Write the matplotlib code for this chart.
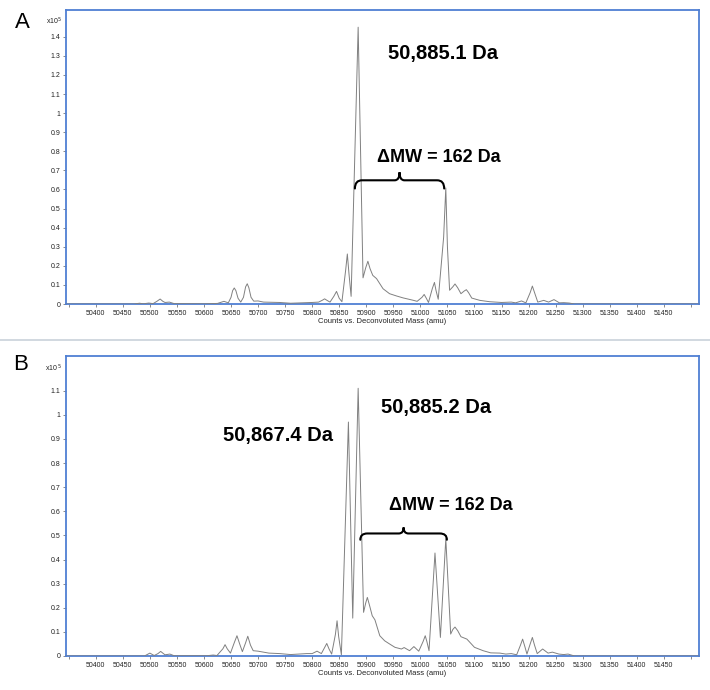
import matplotlib
matplotlib.use("Agg")
import matplotlib.pyplot as plt
from matplotlib.path import Path
from matplotlib.patches import PathPatch
from matplotlib.lines import Line2D

plt.rcParams['font.family'] = ['Liberation Sans', 'DejaVu Sans']

# ---- data (intensity in units of 1e5 counts) ----
mass_a = [50345, 50470, 50481, 50488, 50498, 50506, 50513, 50519, 50524, 50528, 50536,
          50545, 50600, 50625, 50637, 50645, 50650, 50653, 50656, 50659, 50663, 50668,
          50673, 50677, 50680, 50683, 50687, 50692, 50700, 50710, 50740, 50760, 50800,
          50812, 50819, 50823, 50828, 50833, 50840, 50845, 50850, 50855, 50862, 50865,
          50868, 50872, 50885, 50894, 50899, 50903, 50907, 50912, 50919, 50931, 50943,
          50956, 50968, 50980, 50986, 50994, 51003, 51007, 51011, 51015, 51022, 51026,
          51029, 51033, 51043, 51047, 51050, 51054, 51060, 51064, 51069, 51075, 51081,
          51085, 51089, 51095, 51110, 51128, 51150, 51168, 51176, 51187, 51195, 51203,
          51207, 51211, 51217, 51228, 51237, 51247, 51257, 51265, 51275, 51285, 51515]
int_a = [0, 0, 0.004, 0.001, 0.005, 0.002, 0.014, 0.026, 0.014, 0.008, 0.010,
         0.002, 0.001, 0.003, 0.014, 0.006, 0.035, 0.070, 0.084, 0.070, 0.030, 0.010,
         0.035, 0.090, 0.106, 0.085, 0.035, 0.015, 0.016, 0.010, 0.008, 0.004, 0.008,
         0.010, 0.020, 0.027, 0.018, 0.010, 0.040, 0.066, 0.030, 0.012, 0.180, 0.262,
         0.160, 0.040, 1.450, 0.137, 0.190, 0.224, 0.185, 0.150, 0.133, 0.080, 0.054,
         0.042, 0.032, 0.024, 0.020, 0.014, 0.035, 0.050, 0.030, 0.008, 0.080, 0.113,
         0.070, 0.025, 0.350, 0.608, 0.300, 0.072, 0.090, 0.105, 0.085, 0.054, 0.068,
         0.075, 0.060, 0.031, 0.019, 0.012, 0.008, 0.010, 0.006, 0.016, 0.006, 0.060,
         0.094, 0.060, 0.010, 0.019, 0.010, 0.023, 0.006, 0.007, 0.005, 0, 0]

mass_b = [50345, 50490, 50500, 50508, 50515, 50520, 50525, 50528, 50537, 50545, 50605,
          50617, 50624, 50635, 50639, 50643, 50649, 50656, 50661, 50666, 50671, 50677,
          50681, 50686, 50691, 50700, 50720, 50740, 50760, 50790, 50800, 50809, 50817,
          50823, 50827, 50831, 50836, 50843, 50846, 50849, 50854, 50867, 50875, 50885,
          50895, 50899, 50902, 50906, 50911, 50916, 50925, 50934, 50943, 50953, 50965,
          50970, 50980, 50988, 50997, 51005, 51009, 51012, 51016, 51027, 51037, 51047,
          51056, 51060, 51064, 51069, 51075, 51086, 51100, 51116, 51130, 51147, 51158,
          51168, 51178, 51185, 51189, 51193, 51197, 51203, 51207, 51211, 51216, 51226,
          51236, 51244, 51256, 51265, 51273, 51285, 51515]
int_b = [0, 0, 0.012, 0.002, 0.010, 0.019, 0.010, 0.005, 0.008, 0.001, 0.001,
         0.004, 0.002, 0.030, 0.047, 0.030, 0.012, 0.055, 0.084, 0.050, 0.018, 0.055,
         0.082, 0.045, 0.022, 0.020, 0.012, 0.010, 0.006, 0.010, 0.010, 0.020, 0.010,
         0.035, 0.052, 0.030, 0.008, 0.090, 0.146, 0.080, 0.005, 0.970, 0.157, 1.110,
         0.181, 0.220, 0.243, 0.210, 0.167, 0.150, 0.084, 0.063, 0.050, 0.036, 0.029,
         0.035, 0.022, 0.039, 0.020, 0.060, 0.084, 0.060, 0.022, 0.427, 0.077, 0.487,
         0.091, 0.110, 0.120, 0.105, 0.080, 0.070, 0.036, 0.022, 0.013, 0.012, 0.008,
         0.010, 0.005, 0.045, 0.070, 0.040, 0.008, 0.050, 0.077, 0.045, 0.010, 0.029,
         0.012, 0.016, 0.008, 0.006, 0.008, 0, 0]

xticks = list(range(50350, 51501, 50))
xticklabels = ['' if (t == 50350 or t == 51500) else str(t) for t in xticks]
yticks_a = [0, 0.1, 0.2, 0.3, 0.4, 0.5, 0.6, 0.7, 0.8, 0.9, 1, 1.1, 1.2, 1.3, 1.4]
yticks_b = [0, 0.1, 0.2, 0.3, 0.4, 0.5, 0.6, 0.7, 0.8, 0.9, 1, 1.1]
ylabels_a = ['0', '0.1', '0.2', '0.3', '0.4', '0.5', '0.6', '0.7', '0.8', '0.9', '1',
             '1.1', '1.2', '1.3', '1.4']
ylabels_b = ylabels_a[:12]

W, H = 710, 690
fig = plt.figure(figsize=(W / 100, H / 100), dpi=100)

def fx(px):
    return px / W

def fy(py):
    return 1 - py / H

SPINE = '#4f7fd3'
TRACE = '#808080'

def setup(ax, yt, yl, ymax):
    ax.set_xlim(50345, 51515)
    ax.set_ylim(0, ymax)
    ax.set_xticks(xticks)
    ax.set_xticklabels(xticklabels)
    ax.set_yticks(yt)
    ax.set_yticklabels(yl)
    ax.tick_params(axis='both', length=2.5, width=0.6, color='#777777',
                   labelsize=5, pad=1.5, labelcolor='#222222')
    for s in ax.spines.values():
        s.set_color(SPINE)
        s.set_linewidth(1.3)
    ax.set_xlabel('Counts vs. Deconvoluted Mass (amu)', fontsize=5.5, labelpad=1,
                  color='#222222')

def brace(ax, x0, x1, yb, yh, yt, dx_end, dx_mid, lw=1.5):
    xm = (x0 + x1) / 2
    verts = [(x0, yb), (x0, yh), (x0 + dx_end, yh),
             (xm - dx_mid, yh),
             (xm, yh), (xm, yt),
             (xm, yh), (xm + dx_mid, yh),
             (x1 - dx_end, yh),
             (x1, yh), (x1, yb)]
    codes = [Path.MOVETO, Path.CURVE3, Path.CURVE3,
             Path.LINETO,
             Path.CURVE3, Path.CURVE3,
             Path.CURVE3, Path.CURVE3,
             Path.LINETO,
             Path.CURVE3, Path.CURVE3]
    ax.add_patch(PathPatch(Path(verts, codes), fill=False, edgecolor='black',
                           linewidth=lw, zorder=5, capstyle='round'))

# Panel A
axA = fig.add_axes([fx(66), fy(304), fx(699 - 66), (304 - 10) / H])
axA.plot(mass_a, int_a, color=TRACE, linewidth=0.7, zorder=3)
setup(axA, yticks_a, ylabels_a, (304 - 10) / 190.9)
brace(axA, 50879, 51044, 0.605, 0.648, 0.690, 13, 9)

# Panel B
axB = fig.add_axes([fx(66), fy(656), fx(699 - 66), (656 - 356) / H])
axB.plot(mass_b, int_b, color=TRACE, linewidth=0.7, zorder=3)
setup(axB, yticks_b, ylabels_b, (656 - 356) / 241.2)
brace(axB, 50889, 51049, 0.482, 0.508, 0.533, 13, 9)

# panel letters & multipliers
fig.text(fx(22), fy(22), 'A', fontsize=16, ha='center', va='center')
fig.text(fx(21), fy(365), 'B', fontsize=16, ha='center', va='center')
fig.text(fx(54), fy(21), r'x10$^5$', fontsize=5, ha='center', va='center', color='#222222')
fig.text(fx(54), fy(368), r'x10$^{\ 5}$', fontsize=5, ha='center', va='center', color='#222222')

# annotations
bold = dict(fontsize=14.5, fontweight='bold', ha='center', va='center')
dmw = dict(fontsize=13, fontweight='bold', ha='center', va='center')
fig.text(fx(443), fy(53), '50,885.1 Da', **bold)
fig.text(fx(439), fy(158), '\u0394MW = 162 Da', **dmw)
fig.text(fx(278), fy(436), '50,867.4 Da', **bold)
fig.text(fx(436), fy(408), '50,885.2 Da', **bold)
fig.text(fx(451), fy(505), '\u0394MW = 162 Da', **dmw)

# separator line
fig.add_artist(Line2D([0, 1], [fy(340), fy(340)], transform=fig.transFigure,
                      color='#c9d2da', linewidth=1.2))

fig.savefig('out.png', dpi=100)
